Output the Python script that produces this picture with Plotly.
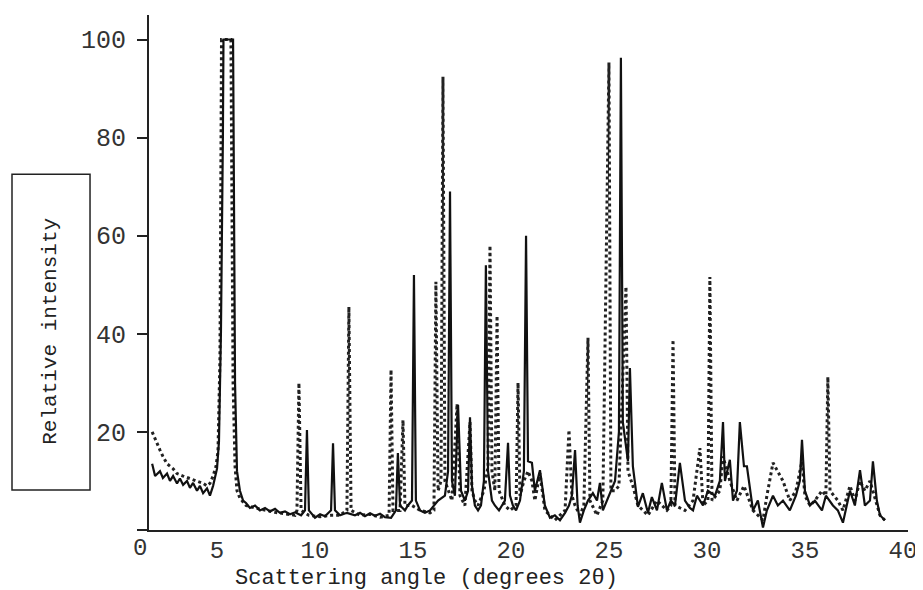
import plotly.graph_objects as go

# sample A (solid line) - 2theta in degrees, relative intensity
solid_x = [1.69, 1.84, 2.09, 2.24, 2.45, 2.60, 2.76, 2.96, 3.11, 3.27, 3.47, 3.62, 3.78, 3.98, 4.13, 4.29,
           4.49, 4.64, 4.80, 4.90, 5.00, 5.10, 5.20, 5.30, 5.33, 5.82, 5.87, 5.92, 6.02, 6.17, 6.33, 6.48,
           6.68, 6.94, 7.19, 7.45, 7.70, 7.96, 8.21, 8.47, 8.72, 8.98, 9.29, 9.49, 9.59, 9.69, 10.00, 10.26,
           10.51, 10.82, 10.92, 11.02, 11.28, 11.63, 12.04, 12.30, 12.55, 12.81, 13.06, 13.32, 13.57, 13.88,
           14.13, 14.23, 14.34, 14.59, 14.74, 14.95, 15.05, 15.15, 15.36, 15.61, 15.87, 16.07, 16.28, 16.63,
           16.79, 16.89, 16.99, 17.14, 17.30, 17.45, 17.65, 17.81, 17.91, 18.01, 18.16, 18.32, 18.47, 18.62,
           18.72, 18.83, 19.03, 19.18, 19.39, 19.54, 19.69, 19.85, 19.95, 20.10, 20.26, 20.46, 20.66, 20.77,
           20.87, 21.07, 21.22, 21.48, 21.73, 21.99, 22.24, 22.50, 22.76, 22.96, 23.11, 23.27, 23.40, 23.52,
           23.72, 23.93, 24.18, 24.39, 24.54, 24.69, 24.90, 25.10, 25.31, 25.51, 25.61, 25.71, 25.97, 26.07,
           26.22, 26.48, 26.73, 26.99, 27.19, 27.45, 27.70, 27.96, 28.16, 28.37, 28.62, 28.88, 29.13, 29.29,
           29.49, 29.80, 30.05, 30.41, 30.66, 30.82, 30.92, 31.17, 31.33, 31.53, 31.68, 31.89, 32.04, 32.35,
           32.60, 32.86, 33.06, 33.37, 33.62, 33.88, 34.23, 34.54, 34.74, 34.85, 35.00, 35.26, 35.51, 35.87,
           36.07, 36.43, 36.68, 36.94, 37.30, 37.55, 37.81, 38.06, 38.32, 38.47, 38.67, 38.83, 39.08]
solid_y = [13.5, 11.0, 12.0, 10.6, 11.5, 10.0, 11.0, 9.5, 10.5, 9.2, 10.0, 8.6, 9.6, 8.0, 9.0, 7.5,
           8.5, 7.0, 9.0, 10.5, 12.5, 18, 40, 80, 100, 100, 60, 30, 12, 8, 6, 5.5,
           4.5, 5, 4, 4.5, 3.8, 4.3, 3.5, 3.8, 3.2, 3.6, 3.0, 4, 20.4, 4, 2.5, 3.2,
           2.8, 4, 17.7, 4, 3.0, 3.5, 3.0, 3.5, 2.8, 3.4, 2.9, 3.3, 2.6, 2.5,
           4, 15.7, 5, 4, 5, 6, 52, 6, 4, 3.5, 4, 5, 6, 7,
           12, 69, 10, 7, 25.5, 8, 6, 8, 23, 9, 5, 4, 5, 10,
           54, 12, 6, 5, 4, 5, 6, 17.8, 7, 5, 4, 6, 12, 60,
           14, 13.7, 8, 12.2, 5, 2.5, 3, 2, 3.5, 5, 7, 16.3, 5, 1.5,
           4, 6, 7.5, 6, 9.6, 4, 6, 8, 10, 20, 96.3, 22, 14, 33,
           13, 4.7, 7.5, 3.5, 6.7, 4, 9.6, 4, 6, 5, 13.7, 6, 4.5, 4,
           7, 5, 8, 7, 10, 22, 10, 14.3, 6, 8, 22, 13, 13, 4,
           6, 0.5, 4, 7, 5, 6, 4, 7, 10, 18.4, 8, 5, 6, 4,
           7, 5, 4, 1.5, 8, 5, 12.2, 5, 6, 14, 6, 3, 2]

# sample B (dotted line)
dotted_x = [1.69, 1.84, 2.09, 2.24, 2.45, 2.76, 2.96, 3.27, 3.62, 3.98, 4.29, 4.49, 4.64, 4.80, 4.95, 5.05,
            5.15, 5.20, 5.23, 5.71, 5.77, 5.82, 5.92, 6.02, 6.17, 6.48, 6.94, 7.45, 7.96, 8.47, 8.98, 9.08,
            9.18, 9.29, 9.69, 10.26, 10.82, 11.28, 11.63, 11.73, 11.84, 12.30, 12.81, 13.32, 13.78, 13.88,
            13.98, 14.34, 14.49, 14.59, 14.95, 15.36, 15.87, 16.07, 16.17, 16.28, 16.43, 16.53, 16.63, 16.99,
            17.25, 17.40, 17.65, 17.91, 18.01, 18.16, 18.32, 18.62, 18.83, 18.93, 19.03, 19.18, 19.29, 19.39,
            19.69, 19.95, 20.26, 20.36, 20.46, 20.66, 20.87, 21.07, 21.22, 21.48, 21.73, 21.99, 22.24, 22.50,
            22.76, 22.96, 23.11, 23.27, 23.52, 23.72, 23.93, 24.03, 24.39, 24.69, 25.00, 25.10, 25.31, 25.51,
            25.87, 25.97, 26.22, 26.48, 26.99, 27.45, 27.70, 27.96, 28.16, 28.27, 28.37, 28.88, 29.29, 29.64,
            29.80, 30.05, 30.15, 30.26, 30.66, 30.82, 31.17, 31.53, 31.89, 32.35, 32.86, 33.06, 33.37, 33.62,
            33.88, 34.23, 34.54, 34.85, 35.00, 35.26, 35.51, 35.87, 36.07, 36.17, 36.28, 36.68, 36.94, 37.30,
            37.55, 37.81, 38.06, 38.32, 38.67, 38.83, 39.08]
dotted_y = [20, 18.5, 16.3, 15, 13.5, 12.5, 11.5, 11, 10.5, 10, 9.5, 9, 9.5, 11, 13, 16,
            35, 75, 100, 100, 60, 30, 13, 8, 6.5, 5, 4.5, 4, 3.6, 3.3, 3.0, 4,
            30, 4, 3, 2.7, 3, 3, 4, 45.5, 4, 3, 3.2, 2.6, 3, 32.7,
            4, 4, 22.4, 5, 5, 4, 3.5, 4, 50.6, 8, 10, 92.4, 10, 6,
            25.7, 7, 5, 22, 8, 6, 5, 8, 13, 58, 12, 8, 43.7, 8,
            5, 4, 5, 30, 7, 10, 12, 10, 6, 11.6, 4, 3, 2, 3,
            4, 20.4, 7, 5, 3, 5, 39.2, 6, 3, 6, 95.3, 8, 8, 9,
            49.6, 12, 9, 5, 3, 6, 5, 4, 5, 38.8, 5, 4, 6, 16.7,
            5, 6, 51.6, 6, 8, 15, 10, 6, 9, 4, 2, 7, 13.7, 12,
            10, 6, 8, 14, 7, 5, 6, 8, 7, 31.2, 8, 6, 4, 9,
            6, 10, 8, 10, 5, 3, 2]

y_ticks = [0, 20, 40, 60, 80, 100]
y_ticktext = ['', '20', '40', '60', '80', '100']

font_name = 'Liberation Mono'

trace_b = go.Scatter(x=dotted_x, y=dotted_y, mode='lines',
                     line=dict(color='#222', width=3, dash='dot'), showlegend=False)
trace_a = go.Scatter(x=solid_x, y=solid_y, mode='lines',
                     line=dict(color='#111', width=2.2), showlegend=False)

# page body has an 8px margin, so the figure is a little smaller than the window
layout = go.Layout(
    width=915, height=582,
    margin=dict(l=141, r=15, t=7, b=60),
    plot_bgcolor='white', paper_bgcolor='white',
    font=dict(family=font_name, color='#222'),
    xaxis=dict(range=[1.53, 40.26], tick0=0, dtick=5, showgrid=False, zeroline=False,
               showline=True, linecolor='#222', linewidth=2, ticks='',
               ticklabelstandoff=-3, tickfont=dict(size=24, color='#333')),
    yaxis=dict(range=[0, 105], tickvals=y_ticks, ticktext=y_ticktext, showgrid=False,
               zeroline=False, showline=True, linecolor='#222', linewidth=2,
               ticks='outside', ticklen=10, tickwidth=2, tickcolor='#222',
               ticklabelstandoff=6, tickfont=dict(size=25, color='#333')),
    shapes=[dict(type='rect', xref='paper', yref='paper', x0=-0.1805, x1=-0.0777, y0=0.0777, y1=0.691,
                 line=dict(color='#222', width=1.5))],
    annotations=[
        dict(text='0', xref='paper', yref='paper', x=-0.0119, y=0, yshift=-18, xanchor='center',
             yanchor='middle', showarrow=False, font=dict(size=24, color='#333')),
        dict(text='Scattering angle (degrees 2θ)', xref='paper', yref='paper', x=0.365, y=0, yshift=-48,
             xanchor='center', yanchor='middle', showarrow=False, font=dict(size=22, color='#222')),
        dict(text='Relative intensity', xref='paper', yref='paper', x=-0.1291, y=0.385, textangle=-90,
             xanchor='center', yanchor='middle', showarrow=False, font=dict(size=21, color='#222')),
    ],
)

fig = go.Figure(data=[trace_b, trace_a], layout=layout)
fig.write_html('out.html')
